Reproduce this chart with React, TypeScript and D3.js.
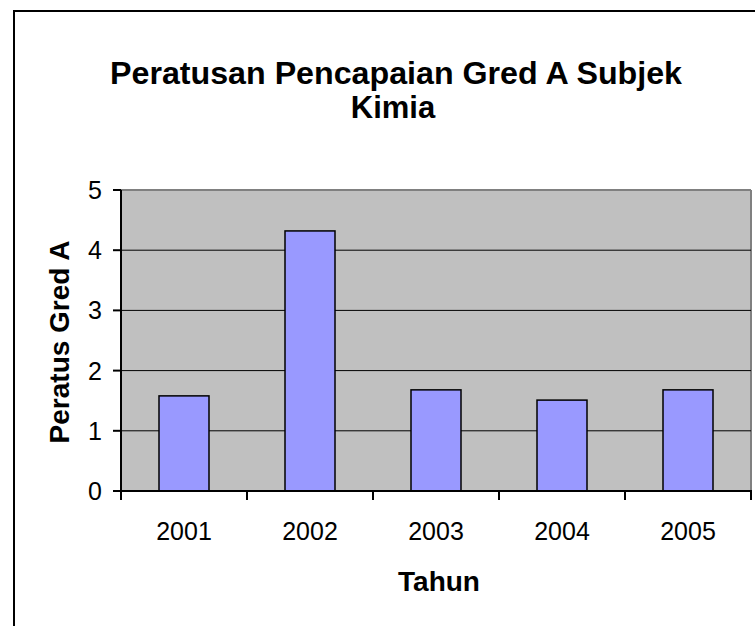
import React from "react";
import * as d3 from "d3";

const categories = ["2001", "2002", "2003", "2004", "2005"];
const values = [1.58, 4.32, 1.68, 1.51, 1.68];
const yTicks = [0, 1, 2, 3, 4, 5];
const title = ["Peratusan Pencapaian Gred A Subjek", "Kimia"];
const xTitle = "Tahun";
const yTitle = "Peratus Gred A";

export default function App() {
  const W = 755, H = 626;
  const left = 121, right = 751, top = 190, bottom = 491;
  const x = d3.scaleBand<string>().domain(categories).range([left, right]).paddingInner(0).paddingOuter(0);
  const y = d3.scaleLinear().domain([0, 5]).range([bottom, top]);
  const barW = 50;
  const font = "Arial, 'Liberation Sans', sans-serif";
  return (
    <svg width={W} height={H} style={{ position: "absolute", left: 0, top: 0 }}>
      <rect x={0} y={0} width={W} height={H} fill="#fff" />
      <rect x={14} y={11} width={760} height={640} fill="#fff" stroke="#000" strokeWidth={2} />
      <text x={396} y={84} textAnchor="middle" fontFamily={font} fontWeight="bold" fontSize={31} textLength={572} lengthAdjust="spacingAndGlyphs">{title[0]}</text>
      <text x={393} y={118} textAnchor="middle" fontFamily={font} fontWeight="bold" fontSize={31}>{title[1]}</text>
      <rect x={left} y={top} width={right - left} height={bottom - top} fill="#C0C0C0" />
      <line x1={left} x2={right} y1={top} y2={top} stroke="#808080" strokeWidth={2} />
      <line x1={right} x2={right} y1={top} y2={bottom} stroke="#808080" strokeWidth={2} />
      {yTicks.filter(t => t > 0 && t < 5).map(t => (
        <line key={t} x1={left} x2={right} y1={y(t)} y2={y(t)} stroke="#000" strokeWidth={1} />
      ))}
      {categories.map((c, i) => {
        const cx = (x(c) as number) + x.bandwidth() / 2;
        return (
          <rect key={c} x={cx - barW / 2} y={y(values[i])} width={barW} height={bottom - y(values[i])} fill="#9999FF" stroke="#000" strokeWidth={1.5} />
        );
      })}
      <line x1={left} x2={left} y1={top} y2={bottom + 1} stroke="#000" strokeWidth={2} />
      <line x1={left} x2={right + 1} y1={bottom} y2={bottom} stroke="#000" strokeWidth={2} />
      {yTicks.map(t => (
        <g key={t}>
          <line x1={left - 8} x2={left} y1={y(t)} y2={y(t)} stroke="#000" strokeWidth={2} />
          <text x={102} y={y(t) + 9} textAnchor="end" fontFamily={font} fontSize={25}>{t}</text>
        </g>
      ))}
      {[...categories.map(c => x(c) as number), right].map((px, i) => (
        <line key={i} x1={px} x2={px} y1={bottom} y2={bottom + 9} stroke="#000" strokeWidth={2} />
      ))}
      {categories.map(c => (
        <text key={c} x={(x(c) as number) + x.bandwidth() / 2} y={540} textAnchor="middle" fontFamily={font} fontSize={25}>{c}</text>
      ))}
      <text x={439} y={591} textAnchor="middle" fontFamily={font} fontWeight="bold" fontSize={28}>{xTitle}</text>
      <text transform={`translate(69, 342) rotate(-90)`} textAnchor="middle" fontFamily={font} fontWeight="bold" fontSize={28}>{yTitle}</text>
    </svg>
  );
}
